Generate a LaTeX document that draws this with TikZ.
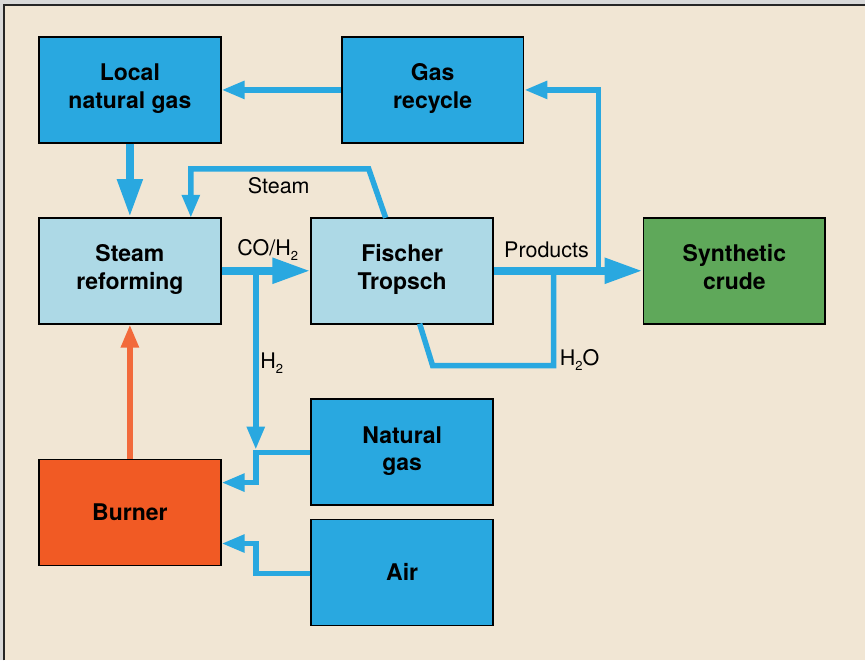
\documentclass[tikz,border=0pt]{standalone}
\usepackage{fontspec}
\setmainfont{TeX Gyre Heros}
\usetikzlibrary{arrows.meta}

\definecolor{paper}{HTML}{F1E6D4}
\definecolor{edgegray}{HTML}{D9D9D9}
\definecolor{flowblue}{HTML}{29A8E0}
\definecolor{boxblue}{HTML}{29A8E0}
\definecolor{paleblue}{HTML}{ADD9E6}
\definecolor{crudegreen}{HTML}{5FA85A}
\definecolor{burnerorange}{HTML}{F15A24}
\definecolor{heatorange}{HTML}{F26A3B}

\newcommand{\subtwo}{{\fontsize{13}{13}\selectfont\raisebox{-5pt}{2}}}
\newcommand{\topstrut}{\rule{0pt}{22pt}}
\newcommand{\botstrut}{\rule[-7pt]{0pt}{7pt}}

\tikzset{
  unitbox/.style={draw=black, line width=1.6pt, minimum width=182pt, minimum height=106pt,
    inner sep=0pt, align=center, font=\fontsize{23}{28}\selectfont\bfseries,
    execute at begin node=\topstrut, execute at end node=\botstrut},
  flow/.style={draw=flowblue, line width=5.5pt, line join=miter,
    -{Triangle[length=23pt,width=17pt]}},
  flowline/.style={draw=flowblue, line width=5.5pt, line join=miter},
  mainflow/.style={draw=flowblue, line width=8pt,
    -{Triangle[length=38pt,width=24pt]}},
  heat/.style={draw=heatorange, line width=5.5pt,
    -{Triangle[length=23pt,width=17pt]}},
  lbl/.style={font=\fontsize{21.5}{24}\selectfont, inner sep=0pt}
}

\begin{document}
\begin{tikzpicture}[x=1pt, y=-1pt]
  % page and frame
  \fill[edgegray] (0,0) rectangle (866,661);
  \fill[paper] (4,5) rectangle (866,661);
  \draw[black!85, line width=1.5pt] (4,661) -- (4,5) -- (866,5);
  \useasboundingbox (0,0) rectangle (866,661);

  % process units
  \node[unitbox, fill=boxblue]      (lng)    at (130,90)    {Local\\natural gas};
  \node[unitbox, fill=boxblue]      (gr)     at (433,90)    {Gas\\recycle};
  \node[unitbox, fill=paleblue]     (sr)     at (130,271)   {Steam\\reforming};
  \node[unitbox, fill=paleblue]     (ft)     at (402.5,271) {Fischer\\Tropsch};
  \node[unitbox, fill=crudegreen]   (sc)     at (735,271)   {Synthetic\\crude};
  \node[unitbox, fill=boxblue]      (ng)     at (402.5,452.5) {Natural\\gas};
  \node[unitbox, fill=burnerorange] (burner) at (130,513)   {Burner};
  \node[unitbox, fill=boxblue]      (air)    at (402.5,573) {Air};

  % junction and bend points
  \coordinate (h2top)  at (256,271);
  \coordinate (h2tip)  at (256,450);
  \coordinate (ngbend) at (256,453);
  \coordinate (airbend) at (256,574);
  \coordinate (recyc)  at (599,271);
  \coordinate (wtap)   at (554,271);
  \coordinate (stout)  at (386,218);
  \coordinate (stkink) at (369,169);
  \coordinate (stin)   at (191,218);
  \coordinate (wout)   at (420,324);
  \coordinate (wkink)  at (433,366);

  % flows
  \draw[flow] (gr.west) -- (gr.west -| lng.east);
  \draw[mainflow] (lng.south) -- (sr.north);
  \draw[flow] (stout) -- (stkink) -- (stkink -| stin) -- (stin);
  \draw[flowline] (wout) -- (wkink) -- (wkink -| wtap) -- (wtap);
  \draw[flow] (recyc) |- (gr.east);
  \draw[mainflow] (ft.east) -- (sc.west);
  \draw[flow] (h2top) -- (h2tip);
  \draw[mainflow] (sr.east) -- (ft.west);
  \draw[flow] (ng.west |- ngbend) -- (ngbend) -- (ngbend |- 0,483) -- (burner.east |- 0,483);
  \draw[flow] (air.west |- airbend) -- (airbend) -- (airbend |- 0,544) -- (burner.east |- 0,544);
  \draw[heat] (burner.north) -- (sr.south);

  % stream labels
  \node[lbl] (lsteam) at (279,186) {Steam};
  \node[lbl] (lsyn)   at (268,250) {CO/H\subtwo};
  \node[lbl] (lh2)    at (272,363) {H\subtwo};
  \node[lbl] (lprod)  at (547,250) {Products};
  \node[lbl] (lwater) at (580,360) {H\subtwo O};
\end{tikzpicture}
\end{document}
